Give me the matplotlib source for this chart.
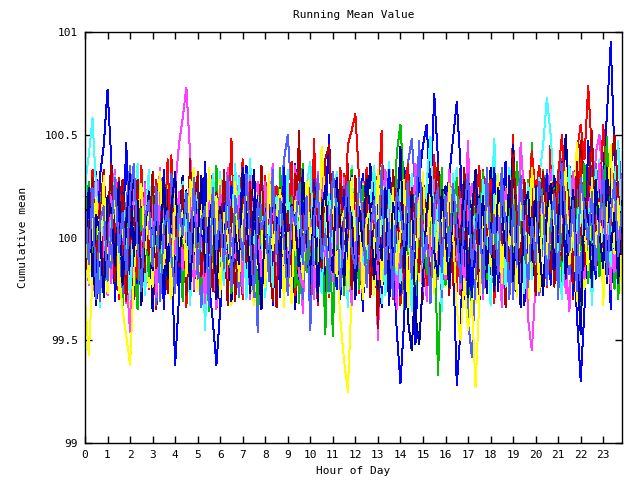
import numpy as np
import matplotlib
matplotlib.use("Agg")
import matplotlib.pyplot as plt

# running mean per run, sampled every 10 minutes, stored as (value - 100) * 100
s0 = [12, -8, 25, 3, -15, 30, -22, 5, 18, -30, 10, 0, 22, -12, 35, -5, 8, -25, 15, 28, -10, 2, -18, 40,
      -6, 14, -28, 20, 6, -14, 32, -20, 9, 24, -3, -35, 16, 4, -9, 27, -17, 11, 38, -24, 7, -2, 19, -31,
      13, -11, 29, 1, -21, 36, -7, 17, -26, 10, 23, -4, -16, 48, -13, 6, 26, -29, 3, 15, -8, 31, -19, 8,
      21, -27, 12, 34, -5, -12, 18, 52, -22, 9, -3, 27, -33, 14, 5, -18, 30, 2, -10, 24, -25, 16, 37, -9,
      11, -15, 28, 4, -28, 20, 39, -6, 13, -21, 33, 7, -14, 25, -2, 18, -30, 10, 50, -17, 22, 3, -11, 35,
      -8, 26, 12, -24, 48, 15, 30, -12, 20, 35, 18, 42, 55, 38, 74, 40, 18, -10, 32, 6, -20, 25, 12, -5]
s1 = [-10, 5, -22, 18, -3, -28, 12, 24, -15, 8, -33, 2, 17, -8, -20, 30, -12, 6, -26, 14, 21, -5, -18, 10,
      28, -14, 3, -30, 16, -7, 22, -19, 9, -36, 4, 19, -11, 26, -24, 0, 13, -29, 7, 31, -16, -2, 20, -9,
      -27, 15, 6, -13, 34, -21, 11, -4, 25, -32, 8, 18, -15, 1, -23, 29, -6, 12, -48, 17, 3, -10, 23, -17,
      5, -25, 14, 27, -8, -19, 32, -3, 10, -28, 21, -12, 7, -35, 16, 2, -20, 24, -7, 13, -30, 9, -67, -14,
      -22, 6, 28, -11, 4, -26, -30, -12, 15, -18, 25, -5, 11, -31, 18, -9, 2, 30, -24, 12, -13, 20, -4, 46,
      -16, 8, 26, -21, 14, -6, 33, -27, 10, 22, -12, 3, -34, 17, 29, -8, 5, -19, 24, -2, 15, -25, 7, -11]
s2 = [20, -15, 8, 32, -24, 5, -10, 27, -31, 14, -2, 46, -18, 9, -27, 22, 3, -12, 30, -20, 16, -35, 7, -6,
      -62, -30, 18, -9, 25, -17, 4, -28, 33, 11, -21, 6, -38, 15, 28, -13, 2, -24, 19, 35, -8, 12, -29, 26,
      -4, 17, -33, 9, 24, -16, 1, -27, 36, -11, 20, -6, -22, 13, 29, -19, 5, 50, -14, 8, -30, 23, -3, 16,
      -25, 10, 31, -7, -18, 27, 2, -34, 14, 21, -12, 6, -28, 34, 18, -9, -52, 11, 25, -5, 15, -23, 3, 30,
      -14, 22, -8, -72, -45, 12, 28, -20, 7, -33, 19, 4, -15, 26, -26, 9, 37, -11, 1, -29, 16, 24, -6, -18,
      13, -24, 30, 5, -16, 21, -9, 35, -27, 10, -3, -38, -70, -35, 17, 26, -12, 8, 32, 60, 95, 40, -8, 14]
s3 = [-5, 18, -26, 9, 31, -14, 3, -22, 15, 26, -9, -32, 12, 6, -19, 28, -3, 21, -28, 8, 34, -12, 1, -16,
      24, 45, 58, 73, 40, 14, -20, 7, 29, -15, 2, -35, 17, 11, -24, 22, -7, 30, -13, 5, -30, 19, 27, -4,
      -18, 10, 36, -21, 4, 25, -10, -29, 16, 8, -37, 20, 13, -6, 32, -17, 1, -26, 23, 9, -12, 29, -33, 6,
      15, -9, 27, -23, 3, 18, -50, 11, 33, -5, -16, 24, 7, -28, 19, -2, 35, -14, 10, -31, 22, 4, -20, 13,
      -11, 28, -3, 16, -25, 9, 47, -18, 5, 21, -30, 12, -7, 26, 2, -34, 17, -12, 31, 8, -22, 14, -1, 24,
      -27, 11, 20, -8, 33, -19, 6, 25, -13, -36, 18, 3, 29, -10, 15, -24, 41, 50, 22, -6, 12, -17, 27, 4]
s4 = [30, 8, -20, 14, -34, 22, 5, -11, 27, -25, 13, -3, 19, -16, 36, 2, -28, 10, 24, -8, -19, 31, 7, -22,
      15, -6, 28, -30, 11, 20, -14, 3, -45, 25, 9, -18, 32, -9, 17, 1, -24, 29, -12, 6, 38, -21, 14, -2,
      -29, 19, 7, -15, 26, -4, 33, -23, 12, -10, 21, 4, -35, 16, 24, -13, 8, -27, 30, -7, 18, -20, 2, 35,
      -11, 23, -26, 10, 5, -17, 28, -32, 15, 37, -6, 11, -22, 20, -1, 31, -14, 9, -28, 25, 3, -9, 17, -36,
      22, -5, 13, 34, -19, 7, -27, 18, 1, -12, 29, -24, 10, 48, -8, 16, -31, 6, 23, -15, 11, -3, 27, -20,
      8, 30, 45, 68, 50, 20, -12, 26, -7, 15, -25, 32, 4, -16, 21, -33, 12, 38, -9, 17, -2, 24, -18, 10]
s5 = [-14, 22, 6, -27, 13, 33, -9, 2, -21, 17, 28, -13, 5, -30, 20, 9, -17, 26, -4, -35, 15, 11, -23, 29,
      3, -19, 24, -8, 38, -26, 10, 18, -12, 31, -3, -22, 14, 7, -33, 23, -6, 12, 27, -16, 1, -29, 20, 8,
      25, -10, -31, 16, 4, -20, 29, 13, -7, 52, -24, 9, 19, -14, 2, 33, -27, 15, -5, 22, -18, 6, 36, -11,
      -21, 14, 3, 30, -15, 8, -44, 20, 11, -9, 26, -4, 17, -25, 35, 5, -13, 28, -30, 12, 19, -6, -19, 24,
      9, -28, 18, 1, 34, -12, 23, -3, -26, 14, 6, 31, -18, 10, -7, 25, -34, 16, 2, -21, 29, -10, 13, 37,
      -15, 20, -4, 27, 11, -24, 32, 5, -9, 17, -30, 14, 47, 26, -8, 35, -19, 7, 22, -13, 3, 30, -20, 12]
s6 = [-30, -57, -20, 12, -8, 25, -16, 4, 19, -27, 10, -3, -38, 15, 22, -11, 6, -24, 30, -5, 13, -19, 27, 1,
      -13, 20, 8, -29, 16, 34, -7, -18, 11, 24, -22, 3, 28, -15, 5, -33, 18, 9, -10, 26, -26, 14, -1, 21,
      -8, 31, -20, 7, 15, -34, 23, 2, -12, 19, -25, 10, 29, -6, -17, 36, 4, -23, 13, -9, -40, -60, -75, -28,
      17, -4, 26, -14, 9, -28, 20, 35, -10, 6, -19, 24, -2, 13, -31, 18, 7, -21, 32, -12, 3, 27, -16, 11,
      -24, 16, 5, -9, 30, -17, 12, 22, -32, 8, -5, 25, 14, -27, 19, -13, 2, 33, -20, 10, 21, -7, -36, 15,
      4, -22, 28, 12, -11, 19, -29, 6, 24, -16, 9, 46, -4, -25, 17, 3, -14, 26, -33, 11, 20, -8, 15, -19]
s7 = [8, 26, -12, -33, 17, 3, -21, 29, 12, -7, 22, -28, 5, 34, -16, 9, -4, 19, -36, 14, 1, -25, 23, 11,
      -18, 6, 30, -11, -24, 13, 20, -5, 37, -27, 2, 16, -15, 25, 8, -31, 12, -2, 28, -20, 10, 33, -9, -23,
      15, -3, 21, -26, 9, 32, -14, 4, -35, 18, 27, -8, 11, -19, 24, 1, -29, 16, 7, -12, 30, -22, 14, 3,
      -10, 28, -18, 12, 36, -6, -25, 19, 5, -33, 15, 22, -13, 8, -40, -55, -20, 10, 26, -16, 3, 31, -7, 18,
      25, -21, 10, -4, 17, -30, 29, 7, -15, 20, 2, -27, 34, 13, -9, 22, -17, 5, 45, -11, 16, -24, 8, -2,
      -26, 14, 24, -13, 6, 30, -19, 11, 50, 18, -8, 23, -31, 3, 16, -14, 27, -5, 9, -22, 35, 12, -17, 21]
s8 = [-20, 12, 28, -6, -31, 19, 7, -15, 24, 2, -27, 16, 35, -10, 4, -22, 27, -3, 13, -33, 20, 6, -13, 31,
      10, -25, 17, 3, -16, 29, -8, -34, 21, 12, -5, 26, -19, 7, 33, -14, 1, -28, 15, 23, -11, 4, -46, 19,
      27, -7, 9, -22, 16, 38, 50, 20, -17, 5, -30, 13, 22, -4, 30, -18, 8, -26, 17, 3, -13, 25, -20, 11,
      -5, 21, -28, 14, 6, -19, 32, -10, 18, -24, 2, 28, -15, 9, 36, 48, 23, -12, 4, -21, 15, -3, 26, -29,
      13, -8, 22, -17, 8, 30, -40, -58, -20, 10, 24, -6, 16, -23, 3, 34, -13, 19, -30, 7, 27, -16, 11, -4,
      20, -28, 5, 33, 15, -10, 25, 38, 12, -18, 7, 29, -24, 14, 2, -11, 36, 19, -6, 24, -15, 31, 45, 22]
s9 = [16, -9, 33, -18, 5, 21, -26, 12, 2, 29, -14, -31, 19, 8, -20, 35, -6, 14, -24, 26, 10, -3, 38, -12,
      -22, 7, 18, -34, 28, 4, -11, 23, -19, 13, 31, -8, -27, 16, 2, 48, -15, 9, -30, 20, 27, -5, 11, -24,
      30, -13, 6, 25, -21, 14, -2, 37, -28, 10, 19, -16, 24, 3, -33, 17, 29, -9, 12, -19, 34, 5, 45, 52,
      60, 28, -7, 20, -25, 11, 32, -14, 4, 26, -30, 15, -3, 22, 36, -18, 8, -12, 27, -23, 13, 40, -6, 17,
      -15, 24, 9, -26, 31, -4, 18, -21, 14, 35, -10, 6, 28, -32, 19, 2, -17, 30, 11, -8, 25, -28, 16, 42,
      22, 35, -3, 28, 12, -16, 30, 50, 18, -9, 26, 4, 38, -14, 21, 33, -7, 15, 55, 24, -11, 31, 8, -20]
s10 = [5, 27, -16, -2, 20, -29, 11, 32, -8, 17, -22, 4, 26, -13, -35, 14, 9, -19, 23, 1, -26, 30, -10, 15,
       -4, 19, -31, 12, 24, -15, 6, -23, 29, 3, -12, 35, -18, 8, 21, -27, 14, -6, 31, -21, 7, 18, -33, 10,
       22, -11, 2, -30, 28, 15, -5, 20, -24, 9, 36, -17, 1, 26, -14, 12, -47, 19, 5, -9, 24, -28, 16, 33,
       -13, 7, 25, -20, 11, -4, 30, -26, 17, 3, -15, 41, 55, 22, -8, 14, -29, 10, 27, -18, 6, 20, -11, 34,
       -23, 12, 4, 29, -16, 21, -9, -34, 15, 8, 32, -20, 13, -5, 25, -27, 3, 18, -14, 37, 10, -24, 28, -7,
       16, -19, 33, 6, -12, 24, -28, 11, 2, 30, -16, 19, -6, 36, -22, 9, 27, -13, 14, 49, -9, 21, -30, 5]
s11 = [-12, 20, 5, -25, 30, 45, 72, 38, -8, 16, -21, 9, 27, -14, 3, -30, 18, 11, -19, 24, -5, 33, -16, 7,
       14, -28, 21, -3, 10, -18, 29, -11, 36, -22, -40, -62, -35, 17, -7, 25, -13, 4, 31, -26, 12, -1, 20, -32,
       8, 26, -15, 13, -29, 34, 2, -10, 22, -20, 17, 6, -34, 28, -4, 11, 37, -17, 15, -25, 3, 23, -9, 30,
       -21, 12, -36, 18, 5, -14, 26, -27, 10, 33, -8, -45, -71, -40, 19, 2, -13, 28, 45, 55, 20, 70, 38, -6,
       15, 30, 48, 66, 35, -12, 21, -30, 7, 16, -19, 27, -2, 34, -24, 11, -9, 29, -15, 4, 22, -33, 13, -5,
       25, -17, 8, 31, -23, 14, -4, 37, -11, 19, -28, 6, 23, -14, 47, 12, -20, 30, -8, 16, -35, 27, 2, -12]
s12 = [9, -23, 15, 30, -11, 4, -28, 20, 33, -6, 12, -18, -46, 23, 7, -14, 26, -2, 16, -29, 31, 3, -20, 12,
       -8, 22, -16, 5, 28, -25, 13, -4, -32, 18, 9, -13, 25, -21, 34, 2, -10, 20, -27, 14, 30, -7, 6, -19,
       27, -3, 18, -26, 10, 21, -12, 3, 35, -18, -24, 13, 8, -30, 19, 29, -9, 15, -21, 4, 26, -14, 11, -33,
       16, -7, -29, 23, 2, 14, -20, 31, -12, 8, 25, -35, 11, -3, 22, -17, 36, 6, -26, 18, -9, 28, -15, 4,
       -20, 33, 7, -11, 19, -28, 14, 26, -6, 2, -23, 31, -14, 17, 9, -31, 24, -4, 12, -18, 46, 20, -40, -55,
       -22, 11, 18, -9, 29, -15, 5, 24, -27, 13, 32, -5, 17, -20, 8, 27, -12, 36, -3, 15, -25, 22, -10, 30]
s13 = [25, 40, 58, 22, -10, 14, -25, 7, 30, -16, 19, -4, -30, 11, 24, -19, 5, 33, -12, 17, -26, 9, 1, -21,
       18, -9, 27, 4, -33, 15, 22, -14, 8, -28, 31, 12, -6, -23, 19, 3, 36, -17, 10, -30, 24, -3, 13, 28,
       -15, 6, -24, 20, 11, -8, 29, -31, 16, 2, -19, 25, 37, -11, 7, -27, 14, 21, -5, 32, -16, 9, -34, 18,
       3, 26, -13, -22, 17, 35, -6, 10, -28, 23, 5, -18, 30, -9, 13, -36, 20, 8, -14, 27, 49, -3, 16, -25,
       12, -20, 31, 6, -10, 24, -29, 18, 2, -15, 28, 10, -33, 21, -7, 15, -24, 34, 5, -12, 19, -27, 26, 8,
       -13, 29, 3, -21, 16, 22, -8, -30, 12, 35, -17, 6, 24, -11, 18, -26, 33, 9, -4, 20, -14, 27, 47, -8]
s14 = [-18, 3, 29, -10, 17, -24, 8, 36, -13, -2, 21, -30, 14, 6, 28, -21, 11, -8, 32, -15, 4, 23, -27, 16,
       9, -14, 25, -28, 2, 19, 30, -19, 12, 5, -26, 22, -9, 33, -4, 15, -31, 10, 20, -12, 27, -23, 1, 35,
       -11, 18, 7, -34, 24, -6, 13, -20, 31, 17, -9, 4, -27, 22, 10, -15, 38, 45, 8, -16, 26, -3, 19, -25,
       30, -8, 14, 21, -29, 6, -13, 27, 2, -21, 33, 11, -5, 18, -32, 24, 9, -17, 29, 3, -24, 15, 36, -10,
       5, 20, -23, 12, -4, 34, -15, 7, 26, -30, 16, 1, 22, -19, 31, -7, 13, -26, 40, 10, -12, 28, -2, 17,
       -28, 14, 32, 4, -17, 23, 9, -11, 30, 16, -22, 37, 5, -14, 25, 52, -6, 19, -20, 11, 34, 50, 22, -9]
s15 = [14, -22, 6, 19, -11, 30, -27, 3, 22, -16, -35, -48, -62, -20, 11, 26, -8, 17, -24, 9, 32, -13, 4, -30,
       21, -5, 13, -19, 28, 7, -26, 16, -10, 34, -3, 20, -29, 12, 1, -17, 27, -21, 8, 25, -14, -33, 15, 5,
       -24, 31, -6, 10, 23, -13, 2, -32, 18, 14, -20, 27, -1, 9, -28, 44, 16, -11, 24, -19, 6, 13, -25, 29,
       -2, 19, -30, 8, 15, -12, 33, -23, 11, -7, 24, -16, 2, 28, -34, 10, -21, 17, 30, -9, 21, -27, 7, 14,
       -18, 26, 3, -35, -50, -20, -45, -30, -73, -30, 12, 20, -14, 6, 31, -22, 18, -4, 10, -29, 25, 3, -17, 34,
       11, -26, 20, -8, 27, 1, -19, 15, 33, -13, 7, -31, 22, 4, -16, 29, -10, 17, -24, 12, 45, -5, 19, -27]
s16 = [-7, 24, -19, 11, 2, -29, 20, 13, -14, 27, -23, 6, 31, -9, 18, -33, 4, 22, -16, 9, -5, 28, -20, 14,
       32, -12, 5, 23, -25, 10, -2, 30, -17, 8, 20, -30, 15, -7, 26, -21, 3, -13, 34, 12, -27, 19, -8, -35,
       11, -18, 27, 4, -9, 21, -26, 16, 7, -14, 33, 1, -22, 19, -31, 12, 25, -5, -17, 29, 6, -23, 20, 9,
       -30, 15, -4, 28, 13, -20, 8, -11, 24, -27, 17, 5, 44, -15, 10, 21, -38, -52, -20, 14, 30, -7, -19, 23,
       2, -24, 18, 9, -13, 27, -29, 12, 33, -3, 20, -17, 7, -26, 24, 14, -10, 30, -21, 5, -34, 16, 22, -11,
       19, -5, -28, 13, 26, -16, 8, 31, -20, 3, 23, -12, -47, 17, 10, -24, 28, 2, -15, 34, -6, 12, -22, 18]
s17 = [17, -13, 24, -30, 8, 15, -21, 3, 29, -7, 12, -18, 21, 36, -4, -26, 10, 18, -14, 25, -31, 5, 13, -9,
       -27, 16, 1, 22, -12, 28, -20, 9, 14, -33, 24, -6, 11, -15, 30, -24, 20, 7, -11, 31, -2, -29, 17, 4,
       12, -21, 33, -8, 19, -3, -28, 15, 6, 26, -13, 20, -45, 9, 23, -10, 2, -19, 32, 14, -25, 8, 27, -6,
       -15, 29, 10, -24, 3, 18, -11, 35, -18, 7, -29, 22, 13, -4, 27, -20, 9, 47, -12, 1, -32, 16, 24, -17,
       20, -9, 26, 5, -22, 12, 31, -14, 4, 19, -27, 34, -8, 11, -18, 25, 7, -30, 16, -13, 30, 2, -24, 9,
       -12, 27, 15, -23, 6, 21, -30, 36, 10, -7, 18, -26, 29, 14, -3, 22, -16, 7, 33, -19, 11, 28, -9, 15]

runs = [s0, s1, s2, s3, s4, s5, s6, s7, s8, s9, s10, s11, s12, s13, s14, s15, s16, s17]
hour_ticks = list(range(24))
y_ticks = [99, 99.5, 100, 100.5, 101]

# gnuplot png palette
colors = ['#ff0000', '#00c000', '#0000ff', '#ff40ff', '#40ffff',
          '#b00000', '#ffff00', '#0000a0', '#5060ff']

plt.rcParams['font.family'] = 'DejaVu Sans Mono'
fig = plt.figure(figsize=(6.4, 4.8), dpi=100)
ax = fig.add_axes([85 / 640, 37 / 480, 537 / 640, 411 / 480])

for i, r in enumerate(runs):
    x = np.arange(len(r)) / 6.0
    y = 100 + np.array(r) / 100.0
    ax.plot(x, y, color=colors[i % len(colors)], lw=0.7, antialiased=False)

ax.set_xlim(0, 23 + 5 / 6)
ax.set_ylim(99, 101)
ax.set_xticks(hour_ticks)
ax.set_yticks(y_ticks)
ax.set_yticklabels(['99', '99.5', '100', '100.5', '101'])
ax.tick_params(direction='in', length=5, width=1, top=True, right=True,
               labelsize=8, pad=5)
for sp in ax.spines.values():
    sp.set_linewidth(1)

ax.set_title('Running Mean Value', fontsize=8, pad=10)
ax.set_xlabel('Hour of Day', fontsize=8, labelpad=4)
ax.set_ylabel('Cumulative mean', fontsize=8, labelpad=12)

fig.savefig('out.png', dpi=100)
